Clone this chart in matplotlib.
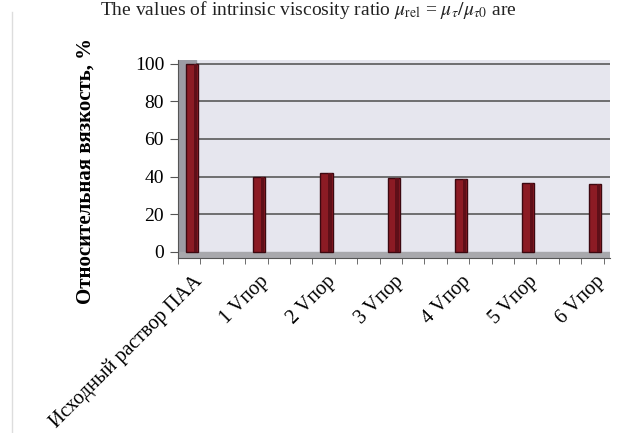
import matplotlib.pyplot as plt
import matplotlib.transforms as mtransforms
from matplotlib.patches import Rectangle
from matplotlib.lines import Line2D

categories = ["Исходный раствор ПАА", "1 Vпор", "2 Vпор", "3 Vпор",
              "4 Vпор", "5 Vпор", "6 Vпор"]
viscosity = [100, 40, 42, 39.5, 38.5, 36.5, 36]
y_ticks = [0, 20, 40, 60, 80, 100]

plt.rcParams["font.family"] = ["Liberation Serif", "DejaVu Serif"]
plt.rcParams["mathtext.fontset"] = "stix"

W, H = 621, 433
fig = plt.figure(figsize=(W / 100, H / 100), dpi=100)
fig.patch.set_facecolor("white")

# caption line from the page above the chart
fig.text(100 / W, 1 - 15 / H,
         r"The values of intrinsic viscosity ratio $\mu_{\rm rel}$ = $\mu_{\tau}/\mu_{\tau0}$ are",
         fontsize=14, va="baseline", ha="left", color="#222222")
fig.add_artist(Line2D([12 / W, 12 / W], [0, 1 - 12 / H], color="#dddddd", lw=1))

ax = fig.add_axes([178 / W, 1 - 258 / H, (610 - 178) / W, (258 - 60) / H])
x0, x1 = -0.21, 6.22
y0, y1 = -3.2, 101.9
ax.set_xlim(x0, x1)
ax.set_ylim(y0, y1)
ax.set_facecolor("#e6e6ee")

wall = 18 / 67.2
ax.add_patch(Rectangle((x0, y0), wall, y1 - y0, color="#9c9ca4", zorder=1))
ax.add_patch(Rectangle((x0, y0), x1 - x0, -y0, color="#a8a8ac", zorder=1))
ax.hlines(y_ticks[1:], x0 + wall, x1, color="#5a5a5a", lw=1.2, zorder=2)

pos = list(range(len(categories)))
ax.bar(pos, viscosity, width=0.18, color="#8c1b24", edgecolor="#3c0810",
       linewidth=1, zorder=3)
ax.bar([p + 0.05 for p in pos], viscosity, width=0.05, color="#5e0f18",
       linewidth=0, zorder=4)

ax.set_yticks(y_ticks)
ax.set_yticklabels([str(v) for v in y_ticks], fontsize=14)
ax.set_xticks(pos)
ax.set_xticklabels(categories, rotation=45, ha="right", va="top",
                   rotation_mode="anchor", fontsize=14.5)
shift = mtransforms.ScaledTranslation(-6 / 100, 0, fig.dpi_scale_trans)
for lbl in ax.get_xticklabels():
    lbl.set_transform(lbl.get_transform() + shift)
ax.set_xticks([x0 + k / 3 for k in range(20)], minor=True)
ax.tick_params(axis="x", which="major", length=0, pad=10)
ax.tick_params(axis="x", which="minor", length=4, color="#555555")
ax.tick_params(axis="y", length=6, color="#555555", pad=4)

for side in ["top", "right"]:
    ax.spines[side].set_visible(False)
ax.spines["left"].set_color("#555555")
ax.spines["bottom"].set_color("#555555")

ax.set_ylabel("Относительная вязкость, %", fontsize=15, fontweight="bold")
ax.yaxis.set_label_coords((96 - 178) / 432, 0.437)

fig.savefig("out.png", dpi=100)
